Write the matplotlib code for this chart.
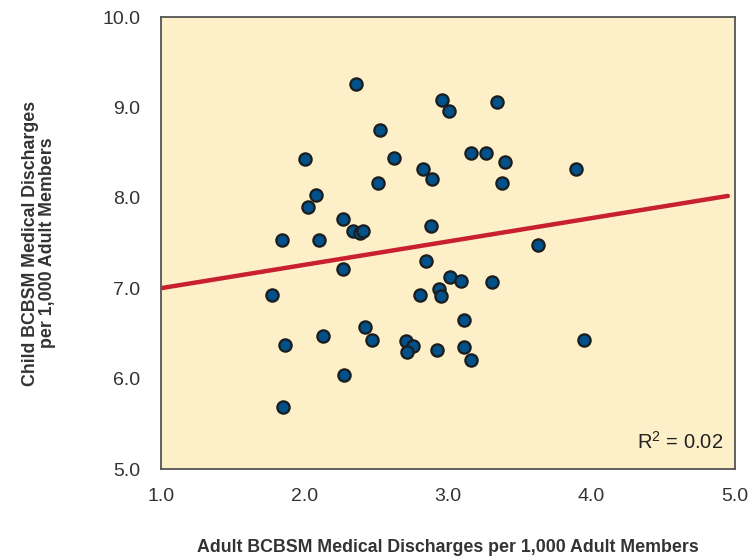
import matplotlib
matplotlib.use("Agg")
import matplotlib.pyplot as plt
import numpy as np

# Data
adult_rate = [2.357, 2.960, 3.010, 3.341, 2.526, 2.001, 2.624, 3.160, 3.263, 3.397,
              2.829, 2.886, 2.510, 3.378, 3.892, 2.082, 2.026, 2.265, 2.340, 2.387,
              2.410, 1.841, 2.101, 2.879, 3.629, 2.848, 2.266, 1.771, 3.014, 3.088,
              3.307, 2.934, 2.951, 2.805, 3.111, 2.422, 2.129, 2.470, 1.864, 2.707,
              2.756, 2.712, 2.925, 3.111, 3.162, 3.946, 2.277, 1.852]
child_rate = [9.259, 9.082, 8.955, 9.060, 8.750, 8.426, 8.440, 8.496, 8.496, 8.399,
              8.315, 8.208, 8.167, 8.160, 8.315, 8.031, 7.895, 7.769, 7.633, 7.607,
              7.636, 7.537, 7.537, 7.688, 7.478, 7.304, 7.216, 6.925, 7.121, 7.080,
              7.069, 6.991, 6.914, 6.930, 6.645, 6.567, 6.471, 6.430, 6.368, 6.419,
              6.364, 6.298, 6.314, 6.350, 6.206, 6.430, 6.043, 5.689]
trend_intercept = 6.742
trend_slope = 0.2583
trend_x = [1.0, 4.95]
r_squared_label = r"R$^{2}$ = 0.02"

x_ticks = [1.0, 2.0, 3.0, 4.0, 5.0]
y_ticks = [5.0, 6.0, 7.0, 8.0, 9.0, 10.0]

plt.rcParams['font.family'] = ['Liberation Sans', 'DejaVu Sans']
plt.rcParams['mathtext.fontset'] = 'custom'
plt.rcParams['mathtext.rm'] = 'Liberation Sans'
plt.rcParams['mathtext.it'] = 'Liberation Sans'
plt.rcParams['mathtext.default'] = 'regular'

fig = plt.figure(figsize=(7.51, 5.60), dpi=100)
ax = fig.add_axes([161/751, 1-469/560, (735-161)/751, (469-17)/560])
ax.set_facecolor('#FDEFC8')

tx = np.array(trend_x)
ax.plot(tx, trend_intercept + trend_slope*tx, color='#C8202F', lw=3.2,
        solid_capstyle='round', zorder=2)
ax.scatter(adult_rate, child_rate, s=78, color='#005189', edgecolors='#1C1C1C',
           linewidths=1.6, zorder=3)

ax.set_xlim(1.0, 5.0)
ax.set_ylim(5.0, 10.0)
ax.set_xticks(x_ticks)
ax.set_yticks(y_ticks)
ax.set_xticklabels([f"{v:.1f}" for v in x_ticks])
ax.set_yticklabels([f"{v:.1f}" for v in y_ticks])
ax.tick_params(length=0, labelsize=14, colors='#333333')
ax.tick_params(axis='x', pad=14)
ax.tick_params(axis='y', pad=15)
for s in ax.spines.values():
    s.set_color('#555555')
    s.set_linewidth(1.3)

ax.set_xlabel("Adult BCBSM Medical Discharges per 1,000 Adult Members",
              fontsize=12.8, fontweight='bold', color='#333333', labelpad=24)
ax.set_ylabel("Child BCBSM Medical Discharges\nper 1,000 Adult Members",
              fontsize=12.8, fontweight='bold', color='#333333', labelpad=33,
              linespacing=1.05)

ax.text(0.979, 0.035, r_squared_label, transform=ax.transAxes, ha='right',
        va='bottom', fontsize=14.5, color='#222222')

fig.savefig("out.png", dpi=100)
